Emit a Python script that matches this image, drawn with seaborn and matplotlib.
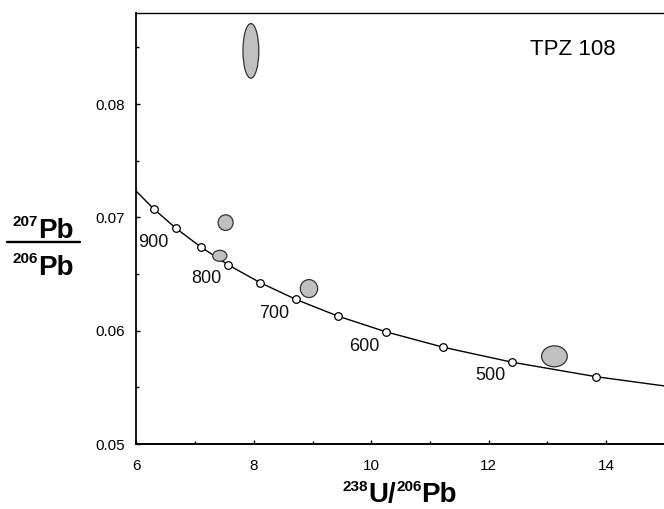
import matplotlib
matplotlib.use("Agg")
import matplotlib.pyplot as plt
import seaborn as sns
from matplotlib.patches import Ellipse
from matplotlib.lines import Line2D

# ------------------------------
# Data
# ------------------------------
# concordia tick marks, 950 -> 450 Ma every 50 Ma
tick_ages = [950, 900, 850, 800, 750, 700, 650, 600, 550, 500, 450]
tick_x = [6.298, 6.674, 7.095, 7.568, 8.105, 8.718, 9.426, 10.252, 11.228, 12.399, 13.831]
tick_y = [0.07074, 0.06904, 0.06740, 0.06580, 0.06425, 0.06276, 0.06130, 0.05990, 0.05854, 0.05722, 0.05594]

# concordia line = tick marks plus the two ends where it meets the frame
curve_x = [6.0] + tick_x + [15.0]
curve_y = [0.0723] + tick_y + [0.05512]

# age labels along the curve
age_labels = ["900", "800", "700", "600", "500"]
age_label_x = [6.283, 7.189, 8.344, 9.877, 12.026]
age_label_y = [0.0678, 0.06463, 0.06154, 0.05857, 0.05608]

# analyses: error ellipse centre and full width/height
ell_x = [7.95, 7.52, 7.42, 8.94, 13.12]
ell_y = [0.0847, 0.06954, 0.06661, 0.06372, 0.05774]
ell_w = [0.27, 0.256, 0.244, 0.295, 0.438]
ell_h = [0.00482, 0.00138, 0.00097, 0.00159, 0.00185]

sample_name = "TPZ 108"

# ------------------------------
# Style
# ------------------------------
sns.set_style("ticks")
plt.rcParams["font.family"] = ["Liberation Sans", "DejaVu Sans"]
plt.rcParams["text.color"] = "black"
plt.rcParams["xtick.color"] = "black"
plt.rcParams["ytick.color"] = "black"
plt.rcParams["axes.edgecolor"] = "black"

fig = plt.figure(figsize=(6.64, 5.09), dpi=100)
ax = fig.add_axes([0.2054, 0.1277, 0.7958, 0.8458])

# concordia
sns.lineplot(x=curve_x, y=curve_y, sort=False, color="black", lw=1.0,
             ax=ax, zorder=2)

# error ellipses
for x, y, w, h in zip(ell_x, ell_y, ell_w, ell_h):
    ax.add_patch(Ellipse((x, y), w, h, facecolor="#c0c0c0",
                         edgecolor="#333333", lw=0.9, zorder=3))

# age ticks on the concordia
sns.scatterplot(x=tick_x, y=tick_y, s=30, color="white", edgecolor="black",
                linewidth=0.9, ax=ax, zorder=4, clip_on=False)

for s, x, y in zip(age_labels, age_label_x, age_label_y):
    ax.text(x, y, s, fontsize=13, ha="center", va="center", color="#111111")

ax.text(13.44, 0.0848, sample_name, fontsize=16, ha="center", va="center")

ax.set_xlim(6, 15)
ax.set_ylim(0.05, 0.088)
ax.set_xticks([6, 8, 10, 12, 14])
ax.set_xticks([7, 9, 11, 13, 15], minor=True)
ax.set_yticks([0.05, 0.06, 0.07, 0.08])
ax.set_yticks([0.055, 0.065, 0.075, 0.085], minor=True)
ax.set_yticklabels(["0.05", "0.06", "0.07", "0.08"])
ax.tick_params(which="both", direction="in", bottom=True, left=True,
               top=False, right=False, width=1.0, labelsize=11,
               color="black", labelcolor="black")
ax.tick_params(which="major", length=3.2)
ax.tick_params(which="minor", length=2.2)
ax.tick_params(axis="x", which="major", pad=11)
ax.tick_params(axis="y", which="major", pad=8)
ax.spines["right"].set_visible(False)
ax.spines["top"].set_linewidth(1.0)
ax.spines["bottom"].set_linewidth(1.4)
ax.spines["left"].set_linewidth(1.3)

# ------------------------------
# Axis labels with small bold isotope superscripts
# ------------------------------
renderer = fig.canvas.get_renderer()
W, H = fig.bbox.width, fig.bbox.height


def rich_label(parts, cx_px, base_px):
    # parts: (text, fontsize, rise in px); placed left to right, centred on cx_px
    texts = [fig.text(0, 0, s, fontsize=fs, fontweight="bold", ha="left",
                      va="baseline", color="black")
             for s, fs, _ in parts]
    widths = [t.get_window_extent(renderer).width for t in texts]
    x = cx_px - sum(widths) / 2
    for t, w, (_, _, rise) in zip(texts, widths, parts):
        t.set_position((x / W, (H - base_px + rise) / H))
        x += w


rich_label([("238", 11, 11), ("U/", 20, 0), ("206", 11, 11), ("Pb", 20, 0)], 400, 502)
rich_label([("207", 11, 12), ("Pb", 20, 0)], 43, 238)
rich_label([("206", 11, 12), ("Pb", 20, 0)], 43, 275)
fig.add_artist(Line2D([7.3 / W, 80 / W], [(H - 241.5) / H] * 2,
                      transform=fig.transFigure, color="black", lw=1.7))

fig.savefig("out.png", dpi=100)
